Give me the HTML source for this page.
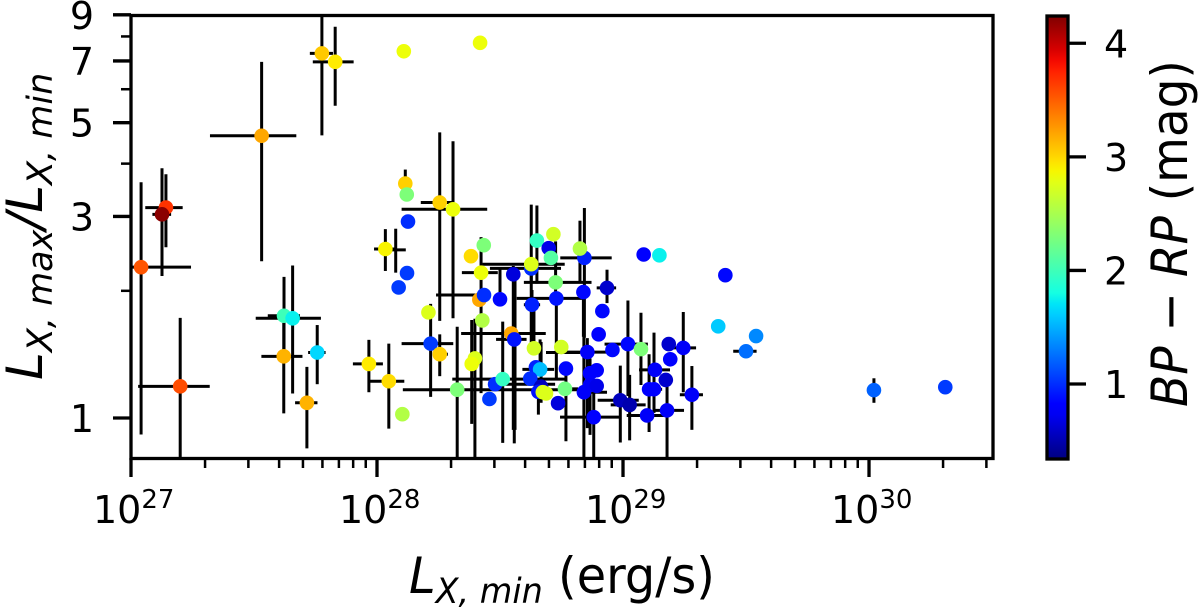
<!DOCTYPE html>
<html lang="en">
<head>
<meta charset="utf-8">
<title>X-ray variability scatter</title>
<style>
html,body{margin:0;padding:0;background:#fff;}
svg{display:block;font-family:"DejaVu Sans",sans-serif;fill:#000;}
</style>
</head>
<body>
<svg id="chart" width="1200" height="607" viewBox="0 0 1200 607" xmlns="http://www.w3.org/2000/svg">
<defs>
<clipPath id="plot-clip"><rect x="131" y="15.5" width="862" height="443"></rect></clipPath>
<linearGradient id="cbar-gradient" x1="0" y1="1" x2="0" y2="0"></linearGradient>
</defs>
<rect x="0" y="0" width="1200" height="607" fill="#fff"></rect>
<g id="errors" clip-path="url(#plot-clip)"></g>
<g id="points" clip-path="url(#plot-clip)"></g>
<g id="xaxis"></g>
<g id="yaxis"></g>
<rect x="131" y="15.5" width="862" height="443" fill="none" stroke="#000" stroke-width="3.3"></rect>
<text transform="translate(409,593) scale(.956,1)" x="0" y="0" font-size="50"><tspan font-style="italic">L</tspan><tspan font-style="italic" font-size="35" dy="10">X, min</tspan><tspan dy="-10"> (erg/s)</tspan></text>
<text transform="translate(42,380) rotate(-90)" font-size="50"><tspan font-style="italic">L</tspan><tspan font-style="italic" font-size="35" dy="10">X, max</tspan><tspan font-style="italic" dy="-10">/L</tspan><tspan font-style="italic" font-size="35" dy="10">X, min</tspan></text>
<rect x="1047" y="16" width="21" height="443" fill="url(#cbar-gradient)"></rect>
<g id="cbar"></g>
<rect x="1047" y="16" width="21" height="443" fill="none" stroke="#000" stroke-width="3.3"></rect>
<text transform="translate(1187,407) rotate(-90) scale(.94,1)" font-size="50"><tspan font-style="italic">BP</tspan><tspan> − </tspan><tspan font-style="italic">RP</tspan><tspan> (mag)</tspan></text>
</svg>
<script>
const logLxMin = [
27.776,27.830,28.109,28.419,27.531,27.142,27.126,27.041,27.200,27.622,
27.657,27.621,27.757,27.715,27.967,28.048,28.103,28.034,28.076,28.122,
28.088,28.115,28.121,28.126,28.255,28.309,28.434,28.423,28.382,28.416,
28.435,28.500,28.554,28.627,28.627,28.650,28.698,28.717,28.707,28.726,
28.729,28.630,28.843,28.825,28.935,28.839,28.916,28.901,29.084,29.148,
29.416,29.387,29.541,29.500,30.020,30.310,29.020,29.073,28.957,28.855,
29.186,29.245,29.192,29.130,29.174,29.106,29.126,29.280,28.989,29.027,
29.098,29.179,28.881,28.768,28.866,28.893,28.866,28.893,28.841,28.764,
28.209,28.218,28.255,28.428,28.326,28.398,28.385,28.457,28.480,28.511,
28.546,28.558,28.638,28.749,28.756,28.646,28.663,28.623,28.667,28.656,
28.674,28.687,28.736,28.561];
const logRatio = [
.863,.843,.868,.888,.668,.498,.482,.357,.075,.242,
.236,.146,.155,.036,.128,.087,.009,.400,.398,.343,
.309,.555,.529,.465,.510,.494,.409,.344,.383,.280,
.291,.281,.340,.354,.364,.420,.402,.435,.379,.321,
.283,.268,.379,.401,.308,.298,.253,.198,.387,.385,
.338,.217,.194,.158,.066,.073,.175,.163,.161,.156,
.175,.166,.139,.114,.090,.068,.068,.055,.042,.031,
.006,.018,.002,.117,.106,.113,.078,.076,.061,.069,
.250,.176,.151,.231,.067,.141,.128,.045,.080,.092,
.200,.186,.165,.168,.155,.120,.115,.093,.074,.062,
.061,.058,.035,.340];
const bpRp = [
3.06,2.92,2.83,2.83,3.2,3.68,4.2,3.54,3.57,2.0,
1.75,3.15,1.65,3.15,2.92,2.98,2.55,2.88,null,1.05,
1.05,3.03,2.3,1.0,3.03,2.83,2.3,2.83,2.98,3.2,
1.0,.85,.65,1.0,2.75,1.95,.7,2.7,2.1,2.3,
.9,.95,.95,2.55,.6,.85,.85,.8,.8,1.75,
.85,1.6,1.35,1.25,1.2,1.05,.85,2.3,.85,.75,
.6,.75,.8,.75,.6,.8,.8,.75,.55,.5,
.75,.75,.8,.85,.8,.8,.75,.7,.75,2.25,
2.75,1.05,3.03,2.55,2.3,2.75,2.83,1.05,1.0,1.95,
3.2,.9,2.7,2.7,null,.95,1.55,1.0,.55,.9,
2.75,2.75,.65,null];
const xErrMinus = [
.049,.091,0,0,.210,.084,.039,.06,.171,.066,
.150,.091,.037,.048,.065,.080,0,.046,.024,0,
0,0,0,0,.077,.209,0,.078,0,0,
.195,0,0,.168,.198,0,0,0,0,.129,
.161,.033,.098,0,.042,0,0,0,0,0,
0,0,0,.052,0,0,.095,0,0,.098,
0,.068,0,.065,0,.028,0,.049,.092,.077,
.083,.057,.137,0,0,0,0,0,0,0,
0,.118,0,0,.221,0,0,0,.028,.205,
.204,.074,0,0,.069,0,.072,0,0,0,
0,0,0,0];
const xErrPlus = [
.045,.075,0,0,.141,.068,.037,.203,.120,.065,
.115,.076,.034,.043,.057,.063,0,.037,.041,0,
0,0,0,0,.053,.139,0,.068,0,0,
.02,0,0,.121,.136,0,0,0,0,.146,
.118,.033,.111,0,.037,0,0,0,0,0,
0,0,0,.043,0,0,.081,0,0,.102,
0,.052,0,.061,0,0,.033,.045,.075,.065,
.081,.069,.107,0,0,0,0,0,.094,.053,
0,.092,.033,0,.49,0,0,0,.244,.260,
.140,.050,0,0,.069,0,.057,0,0,0,
0,0,0,0];
const yErrMinus = [
.194,.104,0,0,.297,.094,.146,.396,.19,.112,
.178,.135,.075,.108,.067,.112,0,.052,.054,0,
0,.033,0,0,.280,.258,0,.285,0,0,
0,.012,.368,.035,.187,.102,0,0,0,.047,
.194,.090,.189,.079,.036,.106,0,0,0,0,
0,0,0,0,.030,0,.123,.085,0,.180,
0,.105,0,0,0,.101,.056,.083,.100,.084,
0,.115,.099,.172,.146,0,0,0,.158,0,
0,.126,.052,0,.161,.236,.142,0,0,.151,
0,.246,0,.016,0,0,0,0,.038,.054,
0,0,0,.368];
const yErrPlus = [
.106,.083,0,0,.175,.079,.109,.201,.162,.092,
.125,.079,.065,.085,.057,.089,0,.047,.050,0,
0,.033,0,0,.166,.161,0,.084,0,0,
0,.076,.02,0,.141,.083,0,0,0,.097,
0,.035,.118,.066,.043,0,0,0,0,0,
0,0,0,0,.028,0,.103,.086,0,.033,
0,.085,0,0,0,.083,.134,.068,.082,.071,
0,.056,.076,0,.035,0,0,0,.131,0,
0,.094,.047,0,.149,.094,.104,0,0,.136,
0,0,.094,.016,0,0,.071,0,.106,0,
0,0,0,0];
const xTickDecades = [27,28,29,30];
const xTickLabels = ["27","28","29","30"];
const xMinorFactors = [2,3,4,5,6,7,8,9];
const yMajorTicks = [1,3,5,7,9];
const yMinorTicks = [2,4,6,8];
const colorTicks = [1,2,3,4];

const NS = "http://www.w3.org/2000/svg";
const xDomain = [27, 30.504];
const xRange = [131, 993];
const yPxPerDex = 422.5;
const yOnePx = 418;
const cMin = 0.34, cMax = 4.24;
function xScale(v){ return xRange[0] + (v - xDomain[0]) / (xDomain[1] - xDomain[0]) * (xRange[1] - xRange[0]); }
function yScale(v){ return yOnePx - v * yPxPerDex; }
function cbarY(v){ return 459 - (v - cMin) / (cMax - cMin) * 443; }
function seg(t, pts){
  for (let i = 0; i + 1 < pts.length; i++){
    if (t >= pts[i][0] && t <= pts[i+1][0]){
      return pts[i][1] + (t - pts[i][0]) / (pts[i+1][0] - pts[i][0]) * (pts[i+1][1] - pts[i][1]);
    }
  }
  return pts[pts.length-1][1];
}
function jet(t){
  const r = seg(t, [[0,0],[.35,0],[.66,1],[.89,1],[1,.5]]);
  const g = seg(t, [[0,0],[.125,0],[.375,1],[.64,1],[.91,0],[1,0]]);
  const b = seg(t, [[0,.5],[.11,1],[.34,1],[.65,0],[1,0]]);
  return "rgb(" + Math.round(r*255) + "," + Math.round(g*255) + "," + Math.round(b*255) + ")";
}
function mk(tag, attrs, parent){
  const e = document.createElementNS(NS, tag);
  for (const k in attrs) e.setAttribute(k, attrs[k]);
  parent.appendChild(e);
  return e;
}
const errG = document.getElementById("errors");
const ptG = document.getElementById("points");
const xG = document.getElementById("xaxis");
const yG = document.getElementById("yaxis");
const cG = document.getElementById("cbar");
const grad = document.getElementById("cbar-gradient");

for (let i = 0; i <= 40; i++){
  const stop = mk("stop", {offset: (i/40), "stop-color": jet(i/40)}, grad);
}

logLxMin.forEach(function(lx, i){
  const ly = logRatio[i];
  const cx = xScale(lx), cy = yScale(ly);
  if (xErrMinus[i] + xErrPlus[i] > 0){
    const h = mk("line", {x1: xScale(lx - xErrMinus[i]), x2: xScale(lx + xErrPlus[i]), y1: cy, y2: cy, stroke: "#000", "stroke-width": 3}, errG);
    
    
  }
  if (yErrMinus[i] + yErrPlus[i] > 0){
    const v = mk("line", {x1: cx, x2: cx, y1: yScale(ly + yErrPlus[i]), y2: yScale(ly - yErrMinus[i]), stroke: "#000", "stroke-width": 3}, errG);
    
    
  }
});
logLxMin.forEach(function(lx, i){
  if (bpRp[i] === null) return;
  const p = mk("circle", {cx: xScale(lx), cy: yScale(logRatio[i]), r: 7.3, fill: jet((bpRp[i] - cMin) / (cMax - cMin))}, ptG);
  
  
});

xTickDecades.forEach(function(d, i){
  const x = xScale(d);
  const t = mk("line", {x1: x, x2: x, y1: 458, y2: 477, stroke: "#000", "stroke-width": 3.3}, xG);
  
  
  const lab = mk("text", {x: x - 38, y: 523, "font-size": 38}, xG);
  
  
  lab.appendChild(document.createTextNode("10"));
  const sup = mk("tspan", {"font-size": 26, dy: -15}, lab);
  sup.textContent = xTickLabels[i];
  xMinorFactors.forEach(function(f){
    const lv = d + Math.log10(f);
    if (lv > xDomain[1]) return;
    const mx = xScale(lv);
    const m = mk("line", {x1: mx, x2: mx, y1: 458, y2: 468, stroke: "#000", "stroke-width": 2.5}, xG);
    
    
  });
});
yMajorTicks.forEach(function(v){
  const y = yScale(Math.log10(v));
  const t = mk("line", {x1: 113, x2: 131, y1: y, y2: y, stroke: "#000", "stroke-width": 3.3}, yG);
  
  
  const lab = mk("text", {x: 94, y: Math.max(y + 14, 28), "font-size": 38, "text-anchor": "end"}, yG);
  
  
  lab.textContent = String(v);
});
yMinorTicks.forEach(function(v){
  const y = yScale(Math.log10(v));
  const t = mk("line", {x1: 121, x2: 131, y1: y, y2: y, stroke: "#000", "stroke-width": 2.5}, yG);
  
  
});
colorTicks.forEach(function(v){
  const y = cbarY(v);
  const t = mk("line", {x1: 1068, x2: 1086, y1: y, y2: y, stroke: "#000", "stroke-width": 3.3}, cG);
  
  
  const lab = mk("text", {x: 1104, y: y + 14, "font-size": 38}, cG);
  
  
  lab.textContent = String(v);
});
</script>
</body>
</html>
